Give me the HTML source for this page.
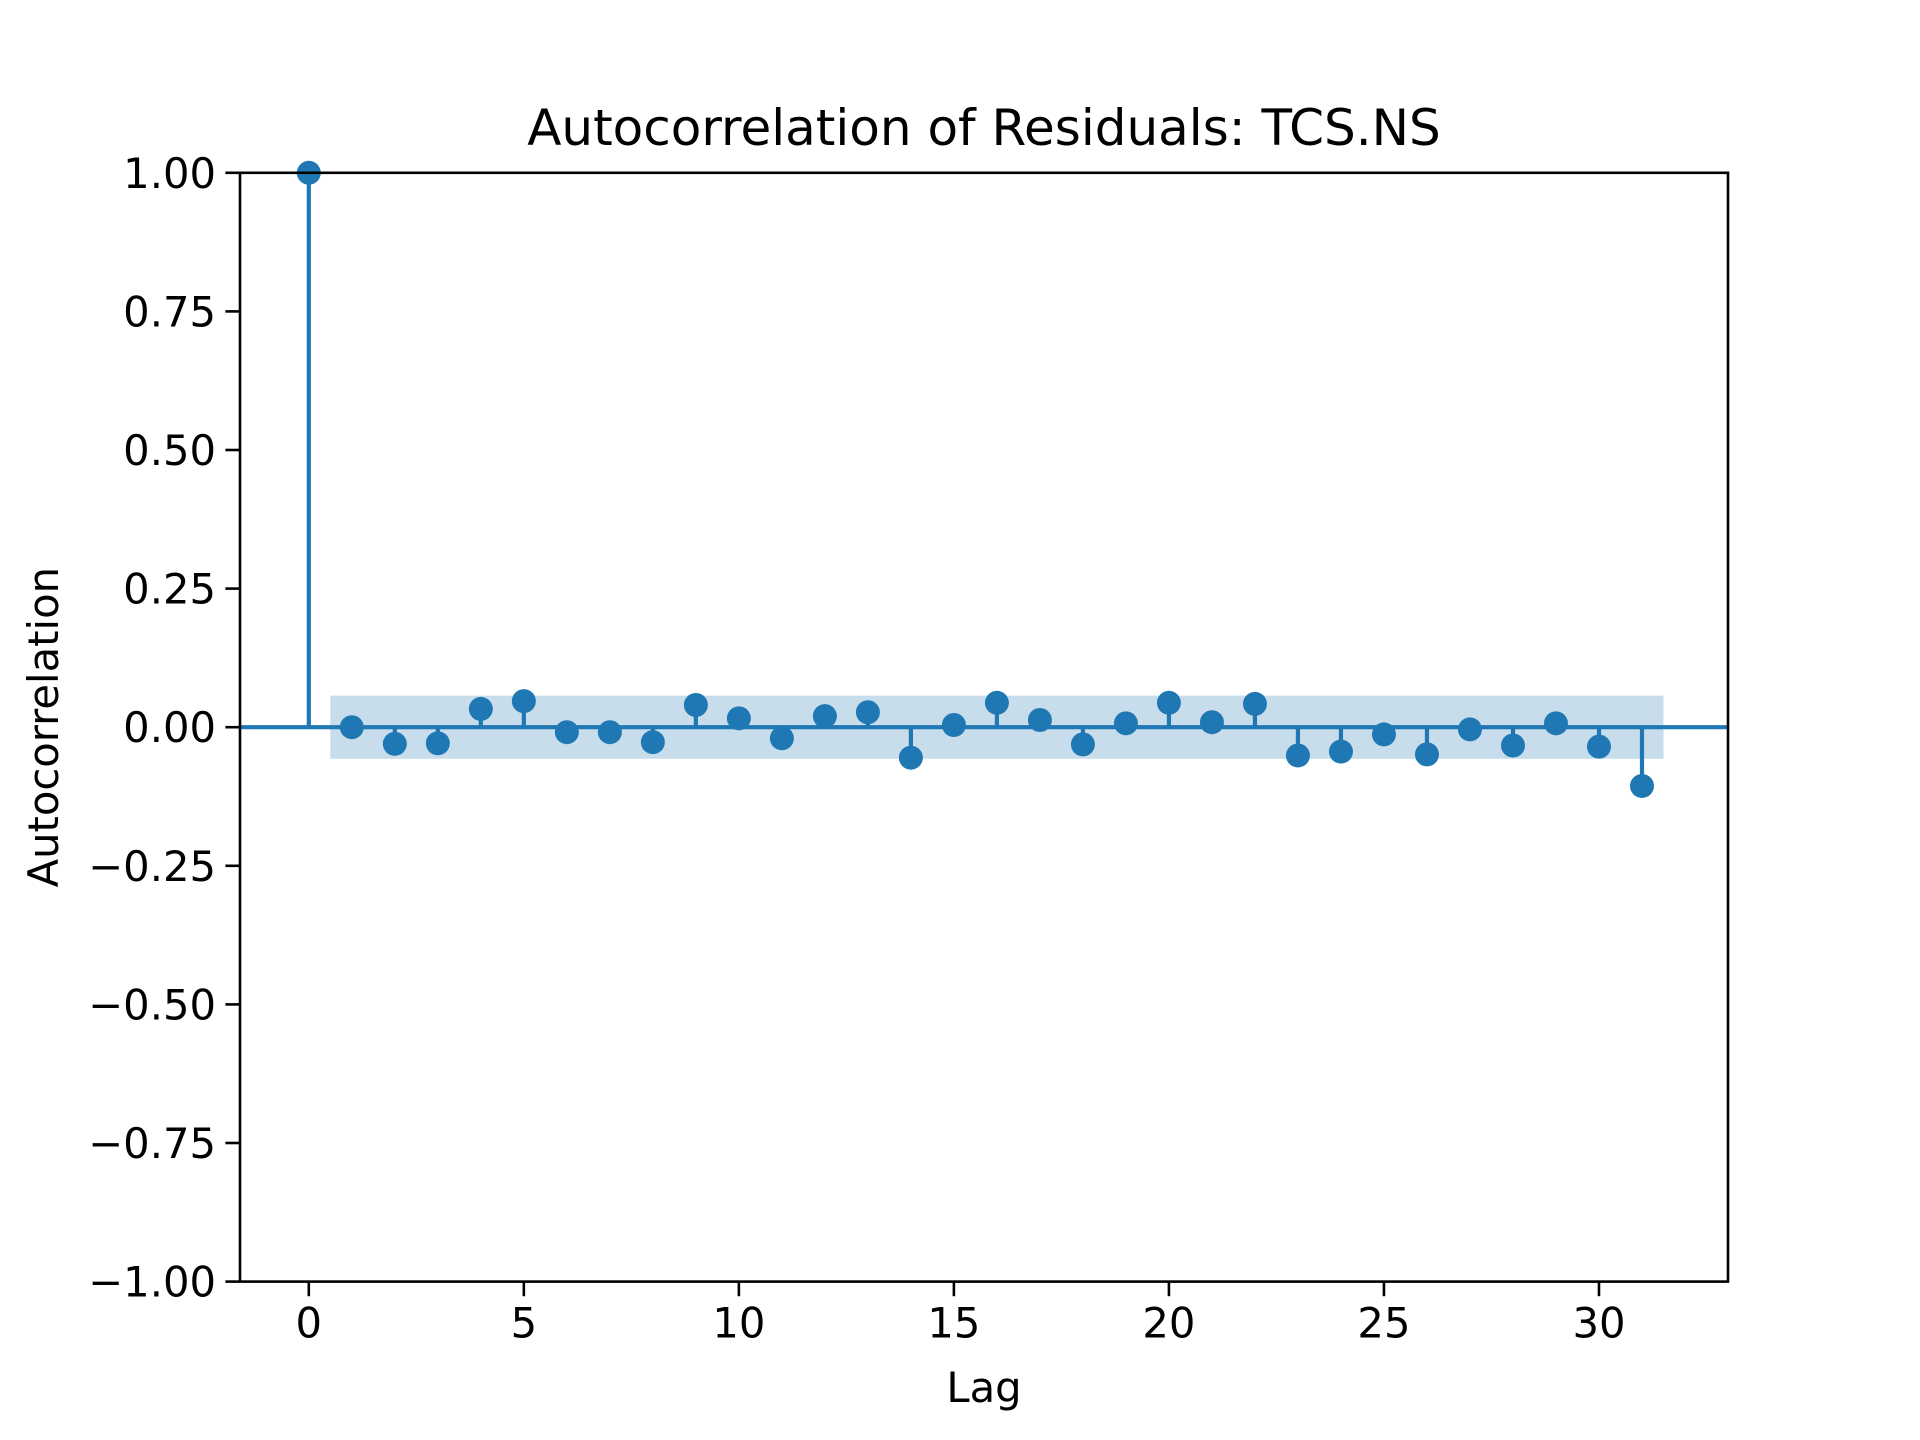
<!DOCTYPE html>
<html><head><meta charset="utf-8"><style>
html,body{margin:0;padding:0;background:#fff}
svg{display:block}
text{font-family:"DejaVu Sans","Liberation Sans",sans-serif;fill:#000}
</style></head><body>
<svg id="chart" width="1920" height="1440" viewBox="0 0 1920 1440">
<rect width="1920" height="1440" fill="#fff"/>
<g id="plot"></g>
</svg>
<script>
const lags = [0,1,2,3,4,5,6,7,8,9,10,11,12,13,14,15,16,17,18,19,20,21,22,23,24,25,26,27,28,29,30,31];
const acfValues = [1.0,0.0,-0.03,-0.029,0.033,0.047,-0.009,-0.009,-0.027,0.04,0.016,-0.02,0.02,0.027,-0.055,0.004,0.044,0.013,-0.031,0.007,0.044,0.009,0.042,-0.051,-0.044,-0.013,-0.049,-0.004,-0.033,0.007,-0.035,-0.106];
const confBand = [0.057];
const xTicks = [0,5,10,15,20,25,30];
const yTicks = [-1,-0.75,-0.5,-0.25,0,0.25,0.5,0.75,1];
const yTickLabels = ["\u22121.00","\u22120.75","\u22120.50","\u22120.25","0.00","0.25","0.50","0.75","1.00"];

const L=240,R=1728,T=172.8,B=1281.6,xmin=-1.6,xmax=33.0,ymin=-1,ymax=1;
const X=v=>L+(v-xmin)/(xmax-xmin)*(R-L);
const Y=v=>B-(v-ymin)/(ymax-ymin)*(B-T);
const NS="http://www.w3.org/2000/svg";
const g=document.getElementById('plot');
function mk(tag,attrs,parent){const e=document.createElementNS(NS,tag);for(const k in attrs)e.setAttribute(k,attrs[k]);(parent||g).appendChild(e);return e;}
const C="#1f77b4";

const band=mk('rect',{x:X(lags[1]-0.5),y:Y(confBand[0]),width:X(lags[lags.length-1]+0.5)-X(lags[1]-0.5),height:Y(-confBand[0])-Y(confBand[0]),fill:C,'fill-opacity':0.25});



lags.forEach((l,i)=>{
  const s=mk('line',{x1:X(l),x2:X(l),y1:Y(0),y2:Y(acfValues[i]),stroke:C,'stroke-width':4.2});
  
  
});
const zl=mk('line',{x1:L,x2:R,y1:Y(0),y2:Y(0),stroke:C,'stroke-width':4.2});


lags.forEach((l,i)=>{
  const c=mk('circle',{cx:X(l),cy:Y(acfValues[i]),r:12,fill:C});
  
  
});

const fr=mk('rect',{x:L,y:T,width:R-L,height:B-T,fill:'none',stroke:'#000','stroke-width':2.6});



xTicks.forEach(t=>{
  const tk=mk('line',{x1:X(t),x2:X(t),y1:B,y2:B+14.6,stroke:'#000','stroke-width':2.6});
  
  
  const tx=mk('text',{x:X(t),y:B+56,'font-size':41.7,'text-anchor':'middle'});
  tx.textContent=t;
  
  
});
yTicks.forEach((t,i)=>{
  const tk=mk('line',{x1:L-14.6,x2:L,y1:Y(t),y2:Y(t),stroke:'#000','stroke-width':2.6});
  
  
  const tx=mk('text',{x:L-24,y:Y(t)+15,'font-size':41.7,'text-anchor':'end'});
  tx.textContent=yTickLabels[i];
  
  
});
const xt=mk('text',{x:(L+R)/2,y:1402,'font-size':41.7,'text-anchor':'middle'});
xt.textContent='Lag';


const yt=mk('text',{x:0,y:0,'font-size':41.7,'text-anchor':'middle',transform:`translate(58,${(T+B)/2}) rotate(-90)`});
yt.textContent='Autocorrelation';


const ti=mk('text',{x:(L+R)/2,y:145,'font-size':50,'text-anchor':'middle'});
ti.textContent='Autocorrelation of Residuals: TCS.NS';


</script>
</body></html>
